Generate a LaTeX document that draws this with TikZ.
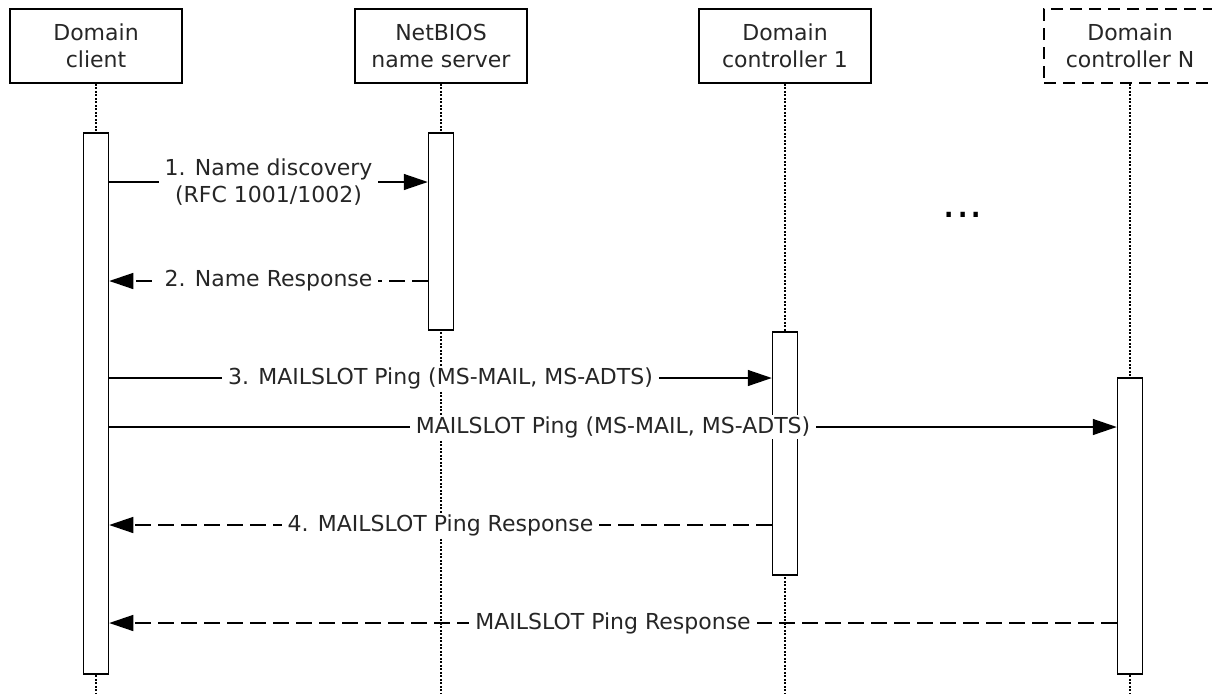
\documentclass[tikz,border=0pt]{standalone}
\usepackage{fontspec}
\setmainfont{DejaVu Sans}
\usetikzlibrary{arrows.meta}
\begin{document}
\begin{tikzpicture}[x=1pt,y=-1pt,
  every node/.style={font=\fontsize{22}{27}\selectfont, text=black!85},
  actor/.style={draw, line width=1.5pt, minimum width=172pt, minimum height=74pt, align=center, inner sep=0pt},
  actorN/.style={actor, dash pattern=on 12pt off 7pt},
  act/.style={draw, fill=white, line width=1.5pt, minimum width=25pt, inner sep=0pt, anchor=north},
  life/.style={line width=1.2pt, dash pattern=on 2pt off 1.5pt},
  msg/.style={line width=1.4pt, -{Triangle[length=24pt,width=16pt]}},
  reply/.style={msg, dash pattern=on 16pt off 7pt},
  lbl/.style={fill=white, inner xsep=6pt, inner ysep=1pt, align=center}]
\useasboundingbox (0,0) rectangle (1212,694);
% actors
\node[actor]  (client) at (96,46)   {Domain\\client};
\node[actor]  (nbns)   at (441,46)  {NetBIOS\\name server};
\node[actor]  (dc1)    at (785,46)  {Domain\\controller 1};
\node[actorN] (dcn)    at (1130,46) {Domain\\controller N};
% lifeline ends
\coordinate (clientEnd) at (96,694);
\coordinate (nbnsEnd)   at (441,694);
\coordinate (dc1End)    at (785,694);
\coordinate (dcnEnd)    at (1130,694);
\draw[life] (client.south) -- (clientEnd);
\draw[life] (nbns.south) -- (nbnsEnd);
\draw[life] (dc1.south) -- (dc1End);
\draw[life] (dcn.south) -- (dcnEnd);
% activations
\node[act, minimum height=541pt] (actC)   at (96,132)   {};
\node[act, minimum height=197pt] (actNB)  at (441,132)  {};
\node[act, minimum height=243pt] (actDC1) at (785,331)  {};
\node[act, minimum height=296pt] (actDCN) at (1130,377) {};
% messages
\draw[msg] (actC.east |- 0,182) -- node[lbl] {1. Name discovery\\(RFC 1001/1002)} (actNB.west |- 0,182);
\draw[reply] (actNB.west |- 0,281) -- node[lbl] {2. Name Response} (actC.east |- 0,281);
\draw[msg] (actC.east |- 0,378) -- node[lbl] {3. MAILSLOT Ping (MS-MAIL, MS-ADTS)} (actDC1.west |- 0,378);
\draw[msg] (actC.east |- 0,427) -- node[lbl] {MAILSLOT Ping (MS-MAIL, MS-ADTS)} (actDCN.west |- 0,427);
\draw[reply] (actDC1.west |- 0,525) -- node[lbl] {4. MAILSLOT Ping Response} (actC.east |- 0,525);
\draw[reply] (actDCN.west |- 0,623) -- node[lbl] {MAILSLOT Ping Response} (actC.east |- 0,623);
% ellipsis
\node[font=\fontsize{42}{42}\selectfont, text=black, anchor=base, inner sep=0pt] (dots) at (963,217) {...};
\end{tikzpicture}
\end{document}
